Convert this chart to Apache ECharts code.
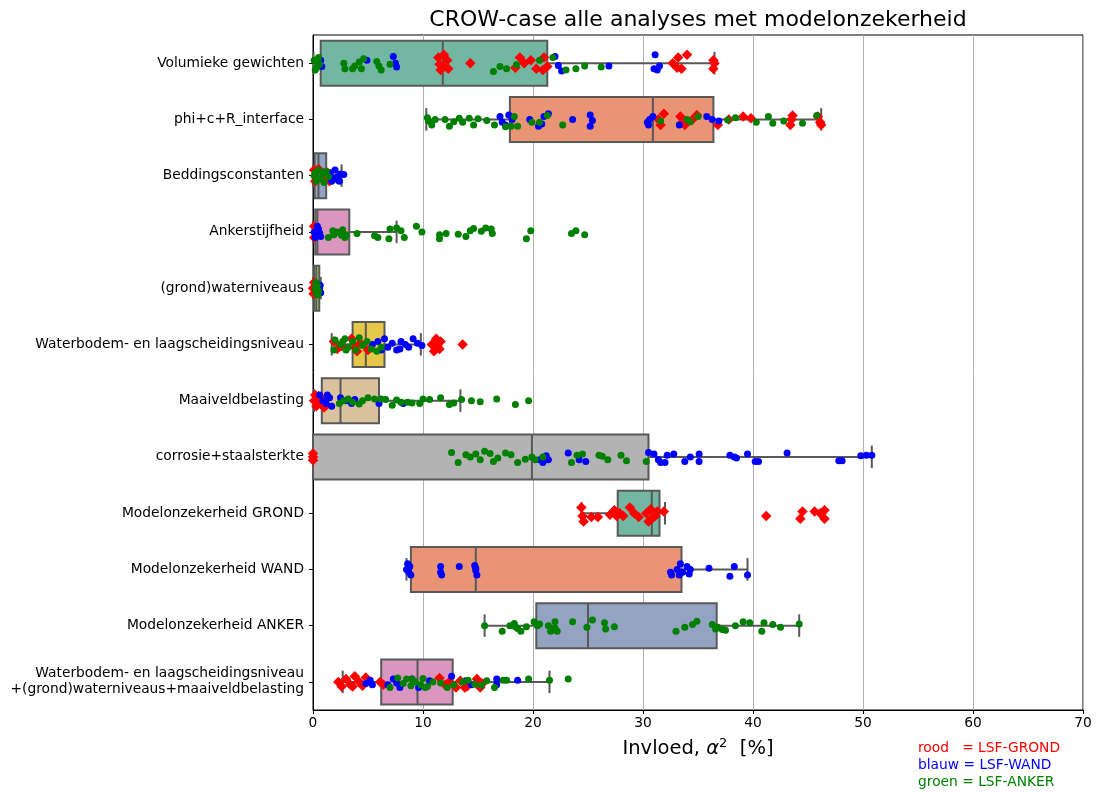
<!DOCTYPE html>
<html>
<head>
<meta charset="utf-8">
<title>CROW-case alle analyses met modelonzekerheid</title>
<script src="https://cdn.jsdelivr.net/npm/echarts@6/dist/echarts.min.js"></script>
<style>
  html, body { margin: 0; padding: 0; background: #fff; }
  #chart { width: 1105px; height: 792px; }
</style>
</head>
<body>
<div id="chart"></div>
<script>
// Stochastic parameters (one row per group)
const categories = [
  'Volumieke gewichten',
  'phi+c+R_interface',
  'Beddingsconstanten',
  'Ankerstijfheid',
  '(grond)waterniveaus',
  'Waterbodem- en laagscheidingsniveau',
  'Maaiveldbelasting',
  'corrosie+staalsterkte',
  'Modelonzekerheid GROND',
  'Modelonzekerheid WAND',
  'Modelonzekerheid ANKER',
  'Waterbodem- en laagscheidingsniveau\n+(grond)waterniveaus+maaiveldbelasting'
];

// Box statistics per row: [lower whisker, Q1, median, Q3, upper whisker] in %
const boxStats = [
  [0.05, 0.7, 11.8, 21.3, 36.5],
  [10.3, 17.9, 30.9, 36.4, 46.2],
  [0.0, 0.15, 0.5, 1.2, 2.6],
  [0.0, 0.2, 0.4, 3.3, 7.6],
  [0.0, 0.1, 0.3, 0.57, 0.7],
  [1.7, 3.6, 4.8, 6.5, 9.8],
  [0.1, 0.8, 2.5, 6.0, 13.4],
  [0.0, 0.0, 19.9, 30.5, 50.8],
  [24.4, 27.7, 30.8, 31.5, 32.0],
  [8.5, 8.9, 14.8, 33.5, 39.5],
  [15.6, 20.3, 25.0, 36.7, 44.2],
  [2.7, 6.2, 9.5, 12.7, 21.5]
];

// Individual analyses per row: [influence %, vertical spread within the row]
// rood = LSF-GROND
const redPts = [
  [[11.4,-0.1],[11.8,0.06],[12.2,-0.05],[11.6,0.12],[12.3,0.1],[11.9,-0.15],[11.5,0.02],[14.3,0],[18.8,-0.1],[18.4,0.08],[19.2,0.0],[19.8,-0.05],[20.3,0.1],[21.0,-0.1],[21.3,0.06],[20.9,0.12],[32.7,0.0],[33.2,-0.1],[33.5,0.1],[34.0,-0.15],[33.1,0.08],[36.4,-0.05],[36.4,0.1],[36.5,0.0]],
  [[31.4,0.0],[31.9,-0.1],[31.6,0.1],[33.4,-0.05],[33.8,0.1],[34.5,0.0],[34.9,-0.08],[33.6,0.05],[36.8,0.1],[37.8,0.0],[39.1,-0.05],[39.8,-0.02],[43.5,0.0],[43.6,-0.07],[43.4,0.1],[45.9,-0.05],[46.1,0.05],[46.2,0.1]],
  [[0.1,-0.1],[0.2,0.1],[0.8,0.05],[1.3,-0.05],[1.5,0.1],[0.5,-0.12]],
  [[0.1,0.1],[0.1,-0.1]],
  [[0.0,0.0],[0.05,0.1],[0.1,-0.1]],
  [[1.9,-0.05],[2.6,0.03],[3.5,-0.1],[3.8,0.05],[4.3,-0.02],[5.0,0.1],[2.2,0.08],[4.0,0.12],[10.8,0.0],[11.2,-0.1],[11.5,0.08],[11.0,0.12],[11.6,-0.05],[11.3,0.02],[13.6,0.0]],
  [[0.1,0],[0.3,0.1],[0.5,-0.08],[0.7,0.05],[0.9,-0.02],[1.0,0.12],[0.2,-0.1],[0.6,0.02],[1.2,0.08]],
  [[0,0],[0,0.06],[0,-0.06]],
  [[24.4,-0.1],[24.5,0.05],[24.6,0.15],[25.3,0.07],[25.9,0.07],[27.0,0.03],[27.4,-0.05],[27.6,0.05],[27.9,0.0],[28.2,0.05],[28.8,-0.1],[29.2,0.0],[29.6,0.07],[30.3,0.0],[30.7,-0.07],[30.8,0.1],[31.1,0.05],[31.3,-0.03],[31.9,-0.03],[30.5,0.15],[41.2,0.05],[44.3,0.1],[44.5,-0.03],[45.6,-0.03],[46.1,0.0],[46.5,-0.05],[46.5,0.1]],
  [],
  [],
  [[2.3,0.0],[2.6,0.08],[3.0,-0.05],[3.4,0.05],[3.8,-0.1],[4.2,0.0],[4.5,0.07],[4.8,-0.08],[3.6,0.08],[6.1,0.0],[6.4,0.05],[11.5,-0.07],[12.0,0.05],[12.4,0.0],[13.0,0.1],[13.4,-0.02],[14.0,0.08],[14.9,-0.05],[15.4,0.03],[13.8,0.1],[15.2,0.1]]
];

// blauw = LSF-WAND
const bluePts = [
  [[0.7,-0.05],[0.8,0.06],[4.9,-0.05],[7.3,-0.12],[7.6,0.07],[7.5,0.0],[22.3,0.04],[22.6,0.14],[22.0,-0.12],[26.9,0.05],[31.1,-0.15],[31.3,0.12],[31.5,0.05],[31.0,0.1]],
  [[17.0,-0.05],[17.2,0.05],[17.5,0.1],[17.8,-0.08],[18.1,0.0],[19.7,0.0],[20.5,0.12],[21.0,-0.05],[21.4,-0.1],[20.8,0.08],[23.6,0.0],[25.2,-0.08],[25.4,0.02],[25.2,0.12],[30.4,0.05],[30.6,0.0],[30.9,-0.05],[30.5,0.1],[33.3,0.1],[35.8,-0.05],[36.3,0.0],[36.9,0.03]],
  [[1.6,-0.05],[1.8,0.05],[2.0,-0.1],[2.2,0.02],[2.4,0.1],[2.5,-0.03],[2.8,-0.02],[2.3,0.08],[1.7,0.1]],
  [[0.1,0],[0.3,0.05],[0.5,-0.05],[0.7,0.08],[0.4,-0.1],[0.2,0.1],[0.6,0.02]],
  [[0.6,0.0],[0.7,0.08],[0.65,-0.05]],
  [[5.4,0.0],[5.9,-0.05],[6.5,-0.1],[6.8,0.05],[7.2,-0.02],[7.6,0.1],[8.0,-0.05],[8.4,0.0],[8.7,0.05],[9.1,-0.1],[9.5,-0.02],[9.9,0.02],[6.2,0.1],[7.9,0.08]],
  [[0.6,-0.1],[0.9,0.0],[1.2,0.05],[1.5,-0.05],[1.7,0.1],[1.3,-0.1],[2.5,-0.05],[3.0,0.0],[3.8,-0.02],[3.5,0.05],[6.0,0.05],[8.2,0.05]],
  [[20.6,0.05],[20.9,0.1],[21.2,-0.02],[21.4,0.05],[23.2,-0.07],[24.2,0.05],[24.8,0.08],[30.5,-0.08],[31.0,-0.05],[31.4,0.05],[31.6,0.1],[32.2,-0.03],[32.0,0.1],[32.8,-0.05],[33.8,0.08],[34.3,0.0],[35.1,-0.05],[35.1,0.08],[37.9,-0.03],[38.3,0.0],[38.5,0.02],[39.5,-0.05],[40.2,0.08],[40.5,0.08],[43.1,-0.07],[47.8,0.07],[48.1,0.07],[49.8,-0.02],[50.3,-0.03],[50.8,-0.03]],
  [],
  [[8.5,0.0],[8.7,0.05],[8.8,-0.05],[8.9,0.1],[8.6,-0.1],[11.6,-0.05],[11.7,0.1],[11.6,0.05],[13.3,-0.05],[14.7,-0.07],[14.8,0.02],[14.9,0.1],[14.8,-0.02],[32.5,0.05],[32.6,0.1],[33.1,0.0],[33.3,0.1],[33.4,-0.1],[33.6,0.05],[34.0,-0.05],[34.3,0.0],[34.2,0.08],[36.0,-0.02],[37.9,0.12],[38.3,-0.05],[39.5,0.1]],
  [],
  [[4.8,0.03],[5.2,-0.03],[5.4,0.05],[6.8,0.05],[7.3,-0.05],[7.6,0.02],[7.9,0.1],[9.0,-0.05],[9.6,0.1],[10.6,-0.02],[12.6,-0.1],[13.9,-0.02],[14.4,0.05],[16.7,-0.05],[16.7,0.05],[18.6,-0.03]]
];

// groen = LSF-ANKER
const greenPts = [
  [[0.1,-0.05],[0.3,0.08],[0.5,-0.1],[0.2,0.12],[0.6,0.02],[0.4,-0.02],[2.8,0.0],[2.9,0.1],[3.8,0.05],[4.2,-0.02],[4.4,0.1],[4.6,-0.08],[3.6,0.1],[5.8,-0.03],[6.2,0.12],[6.0,0.05],[7.0,0.02],[16.4,0.15],[17.0,0.06],[17.6,0.1],[18.5,0.03],[20.6,-0.05],[21.8,-0.1],[23.0,0.12],[23.9,0.1],[24.7,0.05],[26.2,0.07]],
  [[10.4,-0.03],[10.5,0.03],[10.8,0.1],[11.1,0],[12.0,0],[12.4,0.12],[12.8,0.04],[13.3,-0.02],[13.6,0.05],[14.2,-0.02],[14.6,0.1],[15.0,-0.01],[15.8,0.02],[16.5,0.1],[17.5,0.13],[18.0,0.12],[18.3,-0.05],[18.6,0.12],[19.9,0.05],[20.6,0.05],[21.3,-0.07],[22.7,0.1],[31.6,0.03],[34.0,0.0],[34.3,0.04],[35.0,-0.05],[37.7,0.01],[38.4,-0.03],[40.3,0.05],[41.4,-0.05],[41.8,0.07],[42.8,0.03],[44.5,0.07],[45.8,-0.07]],
  [[0.1,0],[0.3,0.1],[0.5,-0.1],[0.7,0.05],[0.9,-0.05],[1.0,0.12],[1.2,-0.08],[1.4,0.02],[0.4,0.05],[0.2,-0.05]],
  [[1.4,0.1],[1.8,-0.02],[2.2,0.0],[2.7,-0.04],[3.0,0.05],[2.9,0.1],[2.6,0.06],[1.9,0.05],[4.0,0.03],[5.6,0.07],[5.9,0.1],[6.9,0.12],[7.0,-0.05],[7.6,-0.07],[8.0,-0.02],[8.3,0.1],[9.4,-0.1],[9.9,0.0],[11.5,0.05],[11.5,0.12],[12.1,0.03],[13.2,0.04],[13.9,0.08],[14.3,-0.02],[14.6,-0.06],[15.3,-0.01],[15.7,-0.07],[16.2,-0.05],[16.3,0.03],[19.4,0.12],[19.8,-0.02],[23.5,0.03],[23.9,-0.02],[24.7,0.05]],
  [[0.2,0],[0.3,0.1],[0.4,-0.05],[0.5,0.05],[0.25,-0.1],[0.45,0.12]],
  [[1.9,0.1],[2.0,-0.08],[2.5,0.0],[2.9,-0.1],[3.2,0.05],[3.6,-0.05],[3.9,0.1],[4.2,-0.12],[4.5,0.02],[4.9,-0.05],[5.3,0.08],[5.8,0.12],[6.2,0.05],[3.0,0.1],[2.7,-0.05]],
  [[2.4,0.05],[2.8,0.0],[3.2,-0.03],[3.6,0.03],[4.2,0.06],[4.5,0.0],[5.0,-0.05],[5.6,-0.03],[6.2,-0.03],[6.6,-0.02],[7.2,0.08],[7.6,-0.01],[8.0,0.03],[8.6,0.03],[9.0,0.04],[9.7,0.05],[10.0,-0.03],[10.6,-0.02],[11.6,-0.05],[12.4,0.07],[12.8,0.04],[13.5,-0.02],[14.4,0.0],[15.2,0.02],[16.7,-0.03],[18.4,0.07],[19.6,0.0]],
  [[12.6,-0.08],[13.2,0.1],[13.9,-0.04],[14.3,0.0],[14.8,-0.05],[15.2,0.05],[15.6,-0.1],[16.1,-0.06],[16.4,0.08],[16.8,0.02],[17.5,-0.07],[18.0,-0.04],[18.6,0.1],[19.3,0.04],[19.9,0.0],[20.2,0.05],[20.9,0.0],[23.5,0.1],[24.0,-0.03],[24.5,-0.05],[26.0,-0.03],[26.3,-0.01],[26.8,0.05],[28.0,-0.03],[28.5,0.07],[30.3,0.08]],
  [],
  [],
  [[15.6,0.0],[17.2,0.1],[17.9,0.0],[18.3,-0.04],[18.6,0.05],[18.9,0.1],[18.4,0.02],[19.4,0.02],[20.1,-0.07],[20.6,-0.03],[20.4,0.0],[21.4,0.0],[21.7,0.05],[22.0,-0.07],[22.2,0.1],[21.6,0.1],[22.0,0.04],[23.6,-0.07],[24.9,0.03],[25.4,-0.1],[26.5,-0.05],[26.6,0.06],[27.4,0.02],[33.0,0.1],[33.8,0.03],[34.5,-0.02],[34.9,-0.08],[36.3,-0.02],[36.6,0.06],[37.2,0.07],[36.8,0.03],[37.5,0.08],[38.4,0.0],[39.1,-0.07],[39.7,-0.05],[40.8,0.1],[41.0,-0.05],[41.8,-0.02],[42.5,0.03],[44.2,-0.03]],
  [[7.0,0.1],[7.7,-0.07],[8.5,-0.05],[8.9,0.07],[9.3,0.0],[9.8,0.05],[10.0,-0.06],[10.4,0.08],[10.9,0.0],[8.2,0.03],[9.0,-0.05],[10.2,0.1],[11.6,0.02],[12.2,0.1],[12.8,0.05],[13.6,0.0],[14.1,-0.03],[14.7,0.04],[15.3,0.06],[15.8,-0.02],[16.5,0.1],[17.3,-0.03],[17.6,-0.03],[19.6,-0.05],[21.5,-0.03],[23.2,-0.05]]
];

const xTicks = { min: 0, max: 70, interval: 10 };

// Box fills: desaturated Set2 cycle
const boxPalette = ['#71b7a1', '#e99575', '#95a3c3', '#db96c0', '#a2c864', '#e5c849', '#dbc29e', '#b3b3b3'];
const edgeGray = '#595959';
const FONT = 'DejaVu Sans';
const LABEL_SIZE = 13.8;

// Place each point at its row index plus its spread within the row
function toPoints(groups) {
  const out = [];
  groups.forEach((row, i) => row.forEach(([x, dy]) => out.push([x, i + dy])));
  return out;
}

function renderBox(params, api) {
  const row = api.value(0);
  const band = api.size([0, 1])[1];
  const h = band * 0.8;
  const cap = h / 2;
  const p = [1, 2, 3, 4, 5].map(k => api.coord([api.value(k), row]));
  const y = p[0][1];
  const line = { stroke: edgeGray, lineWidth: 2 };
  return {
    type: 'group',
    children: [
      { type: 'line', shape: { x1: p[0][0], y1: y, x2: p[1][0], y2: y }, style: line },
      { type: 'line', shape: { x1: p[3][0], y1: y, x2: p[4][0], y2: y }, style: line },
      { type: 'line', shape: { x1: p[0][0], y1: y - cap / 2, x2: p[0][0], y2: y + cap / 2 }, style: line },
      { type: 'line', shape: { x1: p[4][0], y1: y - cap / 2, x2: p[4][0], y2: y + cap / 2 }, style: line },
      { type: 'rect', shape: { x: p[1][0], y: y - h / 2, width: p[3][0] - p[1][0], height: h },
        style: { fill: boxPalette[row % boxPalette.length], stroke: edgeGray, lineWidth: 2 } },
      { type: 'line', shape: { x1: p[2][0], y1: y - h / 2, x2: p[2][0], y2: y + h / 2 }, style: line }
    ]
  };
}

const chart = echarts.init(document.getElementById('chart'), null, { renderer: 'canvas' });

const option = {
  animation: false,
  backgroundColor: '#ffffff',
  textStyle: { fontFamily: FONT },
  grid: {
    left: 313, right: 22, top: 35, bottom: 82,
    show: true, borderColor: '#000', borderWidth: 1, backgroundColor: 'transparent'
  },
  xAxis: {
    type: 'value',
    min: xTicks.min, max: xTicks.max, interval: xTicks.interval,
    name: 'Invloed, {i|α}{s|2}  [%]',
    nameLocation: 'middle',
    nameGap: 27,
    nameTextStyle: {
      color: '#000', fontSize: 19.5, fontFamily: FONT,
      rich: {
        i: { fontSize: 19.5, fontStyle: 'italic', fontFamily: FONT, color: '#000' },
        s: { fontSize: 13, fontFamily: FONT, color: '#000', verticalAlign: 'top', padding: [0, 0, 10, 0] }
      }
    },
    axisLine: { show: true, onZero: false, lineStyle: { color: '#000', width: 1 } },
    axisTick: { show: true, length: 4, lineStyle: { color: '#000' } },
    axisLabel: { color: '#000', fontSize: LABEL_SIZE, margin: 6, fontFamily: FONT },
    splitLine: { show: true, lineStyle: { color: '#b0b0b0', width: 1 } }
  },
  yAxis: [
    {
      type: 'category',
      data: categories,
      inverse: true,
      axisLine: { show: true, lineStyle: { color: '#000', width: 1 } },
      axisTick: { show: true, alignWithLabel: true, length: 4, lineStyle: { color: '#000' } },
      axisLabel: { color: '#000', fontSize: LABEL_SIZE, margin: 9, lineHeight: 16, fontFamily: FONT },
      splitLine: { show: false }
    },
    { type: 'value', min: -0.5, max: 11.5, inverse: true, show: false }
  ],
  series: [
    {
      type: 'custom',
      yAxisIndex: 1,
      silent: true,
      z: 2,
      data: boxStats.map((s, i) => [i].concat(s)),
      encode: { x: [1, 2, 3, 4, 5], y: 0 },
      renderItem: renderBox
    },
    {
      name: 'LSF-GROND', type: 'scatter', yAxisIndex: 1, silent: true, z: 3,
      symbol: 'diamond', symbolSize: 10.5,
      itemStyle: { color: '#ff0000', opacity: 1 },
      data: toPoints(redPts)
    },
    {
      name: 'LSF-WAND', type: 'scatter', yAxisIndex: 1, silent: true, z: 4,
      symbol: 'circle', symbolSize: 7,
      itemStyle: { color: '#0000ff', opacity: 1 },
      data: toPoints(bluePts)
    },
    {
      name: 'LSF-ANKER', type: 'scatter', yAxisIndex: 1, silent: true, z: 5,
      symbol: 'circle', symbolSize: 7,
      itemStyle: { color: '#008000', opacity: 1 },
      data: toPoints(greenPts)
    }
  ],
  graphic: [
    { type: 'text', x: 698, y: 20, silent: true,
      style: { text: 'CROW-case alle analyses met modelonzekerheid', fontSize: 22, fontFamily: FONT,
               fill: '#000', align: 'center', verticalAlign: 'middle' } },
    { type: 'text', x: 918, y: 748, silent: true,
      style: { text: 'rood   = LSF-GROND', fontSize: LABEL_SIZE, fontFamily: FONT, fill: '#ff0000', align: 'left', verticalAlign: 'middle' } },
    { type: 'text', x: 918, y: 765, silent: true,
      style: { text: 'blauw = LSF-WAND', fontSize: LABEL_SIZE, fontFamily: FONT, fill: '#0000ff', align: 'left', verticalAlign: 'middle' } },
    { type: 'text', x: 918, y: 782, silent: true,
      style: { text: 'groen = LSF-ANKER', fontSize: LABEL_SIZE, fontFamily: FONT, fill: '#008000', align: 'left', verticalAlign: 'middle' } }
  ]
};

chart.setOption(option);
</script>
</body>
</html>
